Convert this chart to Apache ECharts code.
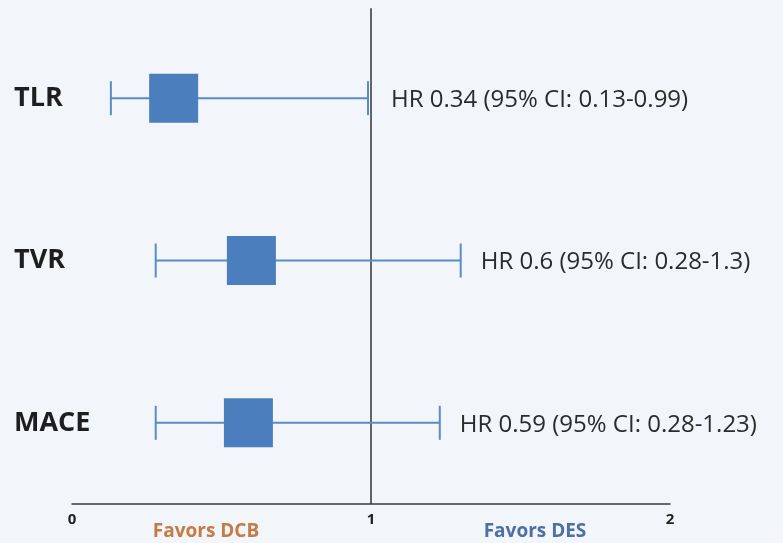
<!DOCTYPE html>
<html>
<head>
<meta charset="utf-8">
<script src="https://cdn.jsdelivr.net/npm/echarts@6/dist/echarts.min.js"></script>
<style>
  html, body { margin: 0; padding: 0; background: #f2f5fa; }
  #main { width: 783px; height: 543px; }
</style>
</head>
<body>
<div id="main"></div>
<script>
// outcomes, hazard ratios and 95% CI
var outcomes = ['TLR', 'TVR', 'MACE'];
var hr = [0.34, 0.6, 0.59];
var ciLow = [0.13, 0.28, 0.28];
var ciHigh = [0.99, 1.3, 1.23];
var xTicks = [0, 1, 2];

var BLUE = '#4a7ebd';
var rows = outcomes.map(function (name, i) {
    return [hr[i], i, ciLow[i], ciHigh[i]];
});

var chart = echarts.init(document.getElementById('main'));

chart.setOption({
    backgroundColor: '#f2f5fa',
    animation: false,
    grid: { left: 72, right: 113, top: 17, bottom: 39 },
    xAxis: {
        type: 'value',
        min: xTicks[0],
        max: xTicks[xTicks.length - 1],
        interval: 1,
        axisLine: { show: true, lineStyle: { color: '#3a3a3a', width: 1.5 } },
        axisTick: { show: false },
        splitLine: { show: false },
        axisLabel: {
            margin: 8,
            color: '#222',
            fontFamily: 'Open Sans',
            fontWeight: 'bold',
            fontSize: 15
        }
    },
    yAxis: {
        type: 'category',
        data: outcomes,
        inverse: true,
        axisLine: { show: false },
        axisTick: { show: false },
        axisLabel: {
            align: 'left',
            margin: 58,
            padding: [6, 0, 0, 0],
            color: '#1e1e1e',
            fontFamily: 'Open Sans',
            fontWeight: 'bold',
            fontSize: 27
        }
    },
    graphic: [
        { type: 'text', x: 206, y: 532, style: { text: 'Favors DCB', fill: '#c47b45', font: 'bold 19px "Open Sans"', align: 'center', verticalAlign: 'middle' } },
        { type: 'text', x: 535, y: 532, style: { text: 'Favors DES', fill: '#4e6fa6', font: 'bold 19px "Open Sans"', align: 'center', verticalAlign: 'middle' } }
    ],
    series: [{
        type: 'custom',
        clip: false,
        data: rows,
        renderItem: function (params, api) {
            var y = api.value(1);
            var c = api.coord([api.value(0), y]);
            var lo = api.coord([api.value(2), y]);
            var hi = api.coord([api.value(3), y]);
            var one = api.coord([1, y]);
            var cap = 17, box = 49;
            var kids = [
                { type: 'line', shape: { x1: lo[0], y1: c[1], x2: hi[0], y2: c[1] }, style: { stroke: '#5b8bc5', lineWidth: 2 } },
                { type: 'line', shape: { x1: lo[0], y1: c[1] - cap, x2: lo[0], y2: c[1] + cap }, style: { stroke: '#5b8bc5', lineWidth: 2 } },
                { type: 'line', shape: { x1: hi[0], y1: c[1] - cap, x2: hi[0], y2: c[1] + cap }, style: { stroke: '#5b8bc5', lineWidth: 2 } },
                { type: 'rect', shape: { x: c[0] - box / 2, y: c[1] - box / 2, width: box, height: box }, style: { fill: BLUE } },
                {
                    type: 'text',
                    x: Math.max(hi[0], one[0]) + 20,
                    y: c[1] + 2,
                    style: {
                        text: 'HR ' + hr[params.dataIndex] + ' (95% CI: ' + ciLow[params.dataIndex] + '-' + ciHigh[params.dataIndex] + ')',
                        fill: '#2b2b2b',
                        font: '24px "Open Sans"',
                        verticalAlign: 'middle'
                    }
                }
            ];
            if (params.dataIndex === 0) {
                var top = api.coord([1, 0])[1] - 90;
                var bottom = params.coordSys.y + params.coordSys.height;
                kids.unshift({ type: 'line', shape: { x1: one[0], y1: top, x2: one[0], y2: bottom }, style: { stroke: '#333', lineWidth: 1.5 } });
            }
            return { type: 'group', children: kids };
        }
    }]
});
</script>
</body>
</html>
